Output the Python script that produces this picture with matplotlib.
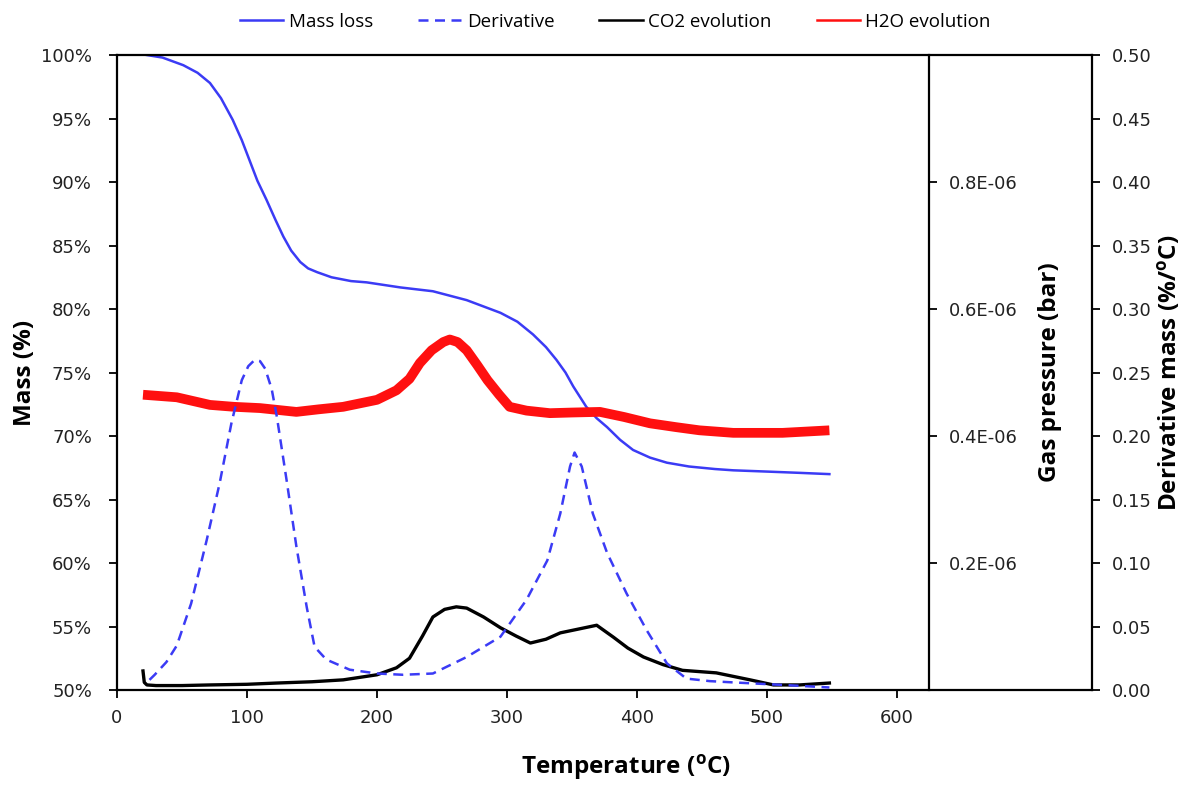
import matplotlib
matplotlib.use("Agg")
import matplotlib.pyplot as plt
from matplotlib.ticker import FuncFormatter, FixedLocator

# Thermogravimetric data
mass_T = [23, 35, 51, 62, 71.5, 80, 89, 96, 102, 108, 115, 122, 128, 134, 141, 147, 154, 165,
          180, 192, 218, 243, 269, 282, 295, 308, 320, 330, 338, 345, 351, 356, 361, 369, 377,
          387, 397, 410, 423, 440, 460, 474, 500, 525, 548]
mass_pct = [100.0, 99.8, 99.2, 98.6, 97.8, 96.6, 94.9, 93.3, 91.7, 90.1, 88.6, 87.0, 85.7, 84.6,
            83.7, 83.2, 82.9, 82.5, 82.2, 82.1, 81.7, 81.4, 80.7, 80.2, 79.7, 79.0, 78.0, 77.0,
            76.0, 75.0, 73.9, 73.1, 72.3, 71.4, 70.7, 69.7, 68.9, 68.3, 67.9, 67.6, 67.4, 67.3,
            67.2, 67.1, 67.0]

deriv_T = [25, 29, 38, 46, 57, 69, 79, 88, 96, 101, 106, 110, 114, 119, 123, 130.5, 138, 146,
           152, 161, 179, 200, 220, 243, 269, 295, 315, 331, 341, 348.5, 352, 357.5, 366, 377,
           392, 407.5, 423, 438, 456, 474, 512, 548]
deriv_val = [0.008, 0.012, 0.022, 0.035, 0.068, 0.118, 0.163, 0.210, 0.244, 0.255, 0.260, 0.259,
             0.253, 0.237, 0.215, 0.165, 0.113, 0.065, 0.034, 0.024, 0.016, 0.013, 0.012, 0.013,
             0.026, 0.042, 0.071, 0.102, 0.139, 0.176, 0.187, 0.176, 0.139, 0.108, 0.076, 0.047,
             0.021, 0.009, 0.007, 0.006, 0.004, 0.002]

# Gas pressures in units of 1E-06 bar
co2_T = [20, 21, 23, 30, 50, 71.5, 100, 123, 150, 174, 200, 215, 225, 235, 243, 252, 261, 269,
         282, 295, 307, 318, 330, 341, 355, 369, 382, 393, 405, 420, 435, 461, 487, 505, 525, 548]
co2_p = [0.030, 0.012, 0.008, 0.007, 0.007, 0.008, 0.009, 0.011, 0.013, 0.016, 0.024, 0.035,
         0.050, 0.085, 0.115, 0.127, 0.131, 0.129, 0.115, 0.098, 0.085, 0.074, 0.080, 0.090,
         0.096, 0.102, 0.083, 0.066, 0.052, 0.040, 0.031, 0.027, 0.016, 0.008, 0.008, 0.011]

h2o_T = [20, 46, 71.5, 90, 110, 138, 155, 174, 200, 215, 225, 233, 242, 251, 256, 262, 269,
         277, 285, 294, 302, 315, 333, 350, 371.5, 390, 410, 430, 448, 474, 512, 548]
h2o_p = [0.465, 0.461, 0.449, 0.446, 0.444, 0.438, 0.442, 0.446, 0.457, 0.472, 0.490, 0.515,
         0.535, 0.548, 0.552, 0.548, 0.535, 0.512, 0.488, 0.465, 0.446, 0.440, 0.436, 0.437,
         0.438, 0.430, 0.420, 0.414, 0.409, 0.405, 0.405, 0.409]

x_ticks = [0, 100, 200, 300, 400, 500, 600]
mass_ticks = [50, 55, 60, 65, 70, 75, 80, 85, 90, 95, 100]
gas_ticks = [0.2, 0.4, 0.6, 0.8]
gas_tick_labels = ["0.2E-06", "0.4E-06", "0.6E-06", "0.8E-06"]
deriv_ticks = [0.0, 0.05, 0.10, 0.15, 0.20, 0.25, 0.30, 0.35, 0.40, 0.45, 0.50]

BLUE = "#3b3bf5"
RED = "#ff1010"
TICK_FONT = "DejaVu Sans"
TITLE_KW = dict(fontsize=17.5, fontweight="bold", family="Open Sans")

plt.rcParams["font.family"] = ["Open Sans", "DejaVu Sans"]

fig = plt.figure(figsize=(11.95, 7.85), dpi=100)
ax = fig.add_axes([0.0979, 0.1210, 0.8159, 0.8089])

ax.set_xlim(0, 750)
ax.set_ylim(50, 100)
ax.xaxis.set_major_locator(FixedLocator(x_ticks))
ax.set_yticks(mass_ticks)
ax.yaxis.set_major_formatter(FuncFormatter(lambda v, p: f"{int(v)}%"))
ax.tick_params(axis="both", direction="out", length=6, width=1.3, labelsize=13, pad=8,
               labelcolor="#222222")
ax.tick_params(axis="y", pad=12)
for t in ax.get_xticklabels() + ax.get_yticklabels():
    t.set_family(TICK_FONT)
for s in ax.spines.values():
    s.set_linewidth(1.6)
ax.spines["right"].set_visible(False)

ax.set_ylabel("Mass (%)", **TITLE_KW)
ax.yaxis.set_label_coords(-0.082, 0.5)
fig.text(626 / 1195, 1 - 768 / 785, "Temperature ($\\mathregular{^{o}}$C)",
         ha="center", va="center", **TITLE_KW)

# Gas pressure axis sits on a vertical line inside the frame
axg = ax.twinx()
axg.set_ylim(0, 1.0)
axg.spines["right"].set_position(("axes", 625 / 750))
axg.spines["right"].set_linewidth(1.6)
for k in ("left", "top", "bottom"):
    axg.spines[k].set_visible(False)
axg.set_yticks(gas_ticks)
axg.set_yticklabels(gas_tick_labels)
axg.tick_params(axis="y", direction="out", length=6, width=1.3, labelsize=13, pad=8,
                labelcolor="#222222")
for t in axg.get_yticklabels():
    t.set_family(TICK_FONT)
axg.set_ylabel("Gas pressure (bar)", **TITLE_KW)
axg.yaxis.set_label_coords(0.945, 0.5)

# Derivative axis on the far right
axd = ax.twinx()
axd.set_ylim(0, 0.5)
axd.spines["right"].set_linewidth(1.6)
for k in ("left", "top", "bottom"):
    axd.spines[k].set_visible(False)
axd.set_yticks(deriv_ticks)
axd.yaxis.set_major_formatter(FuncFormatter(lambda v, p: f"{v:.2f}"))
axd.tick_params(axis="y", direction="out", length=6, width=1.3, labelsize=13, pad=8,
                labelcolor="#222222")
for t in axd.get_yticklabels():
    t.set_family(TICK_FONT)
axd.set_ylabel("Derivative mass (%/$\\mathregular{^{o}}$C)", **TITLE_KW)
axd.yaxis.set_label_coords(1.066, 0.5)

h_mass, = ax.plot(mass_T, mass_pct, color=BLUE, lw=1.8, label="Mass loss")
h_der, = axd.plot(deriv_T, deriv_val, color=BLUE, lw=1.8, ls=(0, (4, 2.6)), label="Derivative")
h_h2o, = axg.plot(h2o_T, h2o_p, color=RED, lw=7, solid_capstyle="butt",
                  solid_joinstyle="round", label="H2O evolution")
h_co2, = axg.plot(co2_T, co2_p, color="black", lw=2.4, label="CO2 evolution")

leg_h2o = plt.Line2D([], [], color=RED, lw=1.8)
leg_co2 = plt.Line2D([], [], color="black", lw=1.8)
fig.legend([h_mass, h_der, leg_co2, leg_h2o],
           ["Mass loss", "Derivative", "CO2 evolution", "H2O evolution"],
           loc="center", bbox_to_anchor=(0.515, 0.972), ncol=4, frameon=False,
           fontsize=13.5, handlelength=2.3, handletextpad=0.3, columnspacing=2.4)

fig.savefig("out.png", dpi=100)
